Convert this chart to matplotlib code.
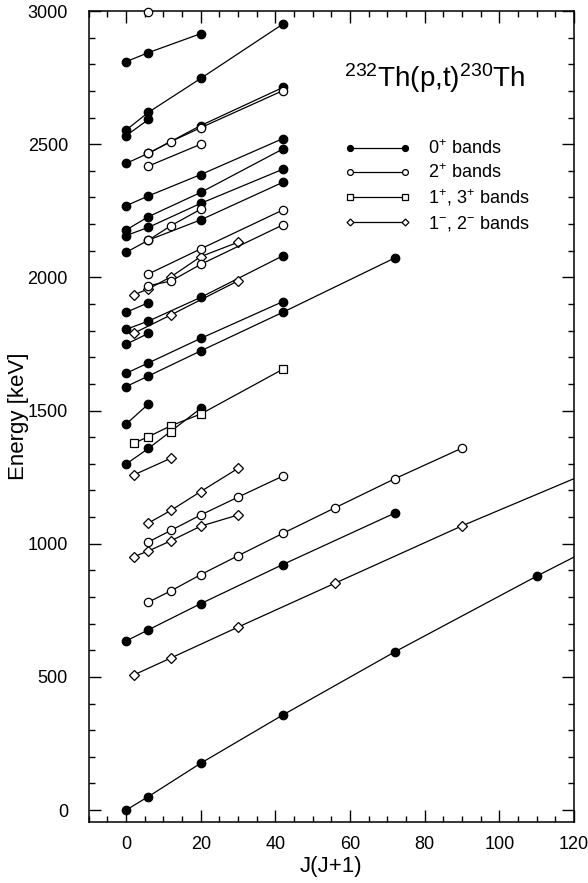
import numpy as np
import matplotlib
matplotlib.use("Agg")
import matplotlib.pyplot as plt
from matplotlib.ticker import MultipleLocator

plt.rcParams['font.family'] = ['Liberation Sans', 'DejaVu Sans']
plt.rcParams['mathtext.fontset'] = 'custom'
plt.rcParams['mathtext.rm'] = 'Liberation Sans'
plt.rcParams['mathtext.default'] = 'regular'

## 230Th levels from (p,t), grouped into bands.  x = J(J+1), y = energy in keV

# 0+ bands (filled circles)
zero_x = [
    [0, 6, 20, 42, 72, 110, 156],
    [0, 6, 20, 42, 72],
    [0, 6, 20],
    [0, 6],
    [0, 6, 20, 42, 72],
    [0, 6, 20, 42],
    [0, 6],
    [0, 6, 20, 42],
    [0, 6],
    [0, 6, 20, 42],
    [0, 6, 20, 42],
    [0, 6, 20, 42],
    [0, 6, 20, 42],
    [0, 6, 20, 42],
    [0, 6],
    [0, 6, 20, 42],
    [0, 6, 20],
]
zero_e = [
    [0, 51, 176, 357, 594, 878, 1208],
    [635, 677, 775, 922, 1115],
    [1299, 1358, 1508],
    [1449, 1525],
    [1590, 1630, 1724, 1869, 2073],
    [1640, 1679, 1771, 1909],
    [1749, 1790],
    [1805, 1836, 1925, 2081],
    [1869, 1905],
    [2094, 2140, 2216, 2357],
    [2157, 2188, 2278, 2406],
    [2178, 2228, 2319, 2482],
    [2269, 2306, 2386, 2521],
    [2428, 2466, 2570, 2713],
    [2532, 2593],
    [2553, 2620, 2747, 2951],
    [2810, 2844, 2915],
]

# 2+ bands (open circles)
two_x = [
    [6, 12, 20, 30, 42, 56, 72, 90],
    [6, 12, 20, 30, 42],
    [6, 12, 20, 42],
    [6, 20, 42],
    [6, 12, 20],
    [6, 20],
    [6, 12, 20, 42],
    [6],
]
two_e = [
    [781, 823, 884, 955, 1039, 1135, 1244, 1359],
    [1007, 1050, 1108, 1175, 1254],
    [1969, 1986, 2049, 2197],
    [2013, 2107, 2253],
    [2140, 2194, 2256],
    [2418, 2500],
    [2466, 2510, 2562, 2701],
    [2998],
]

# 1+, 3+ bands (open squares)
one_x = [
    [2, 6, 12, 20, 42],
    [12],
]
one_e = [
    [1377, 1402, 1443, 1487, 1655],
    [1421],
]

# 1-, 2- bands (open diamonds)
neg_x = [
    [2, 12, 30, 56, 90, 132],
    [2, 6, 12, 20, 30],
    [6, 12, 20, 30],
    [2, 12],
    [2, 12, 30],
    [2, 6, 12, 20, 30],
]
neg_e = [
    [507, 571, 687, 852, 1067, 1315],
    [951, 973, 1011, 1066, 1108],
    [1078, 1125, 1196, 1283],
    [1258, 1321],
    [1790, 1859, 1987],
    [1934, 1957, 2002, 2078, 2132],
]

fig = plt.figure(figsize=(5.88, 8.83), dpi=100)
ax = fig.add_axes([0.151, 0.069, 0.825, 0.9185])

lw = 0.9
handles = []

for xs, es in zip(zero_x, zero_e):
    h, = ax.plot(xs, es, '-o', color='k', lw=lw, ms=6, mfc='k', mec='k')
handles.append(h)
# 2+ points all sit inside the frame, the top one sits right on it -> no clipping
for xs, es in zip(two_x, two_e):
    h, = ax.plot(xs, es, '-o', color='k', lw=lw, ms=6, mfc='white', mec='k', mew=0.9,
                 clip_on=False, zorder=3)
handles.append(h)
for xs, es in zip(one_x, one_e):
    h, = ax.plot(xs, es, '-s', color='k', lw=lw, ms=5.5, mfc='white', mec='k', mew=0.9)
handles.append(h)
for xs, es in zip(neg_x, neg_e):
    h, = ax.plot(xs, es, '-D', color='k', lw=lw, ms=5, mfc='white', mec='k', mew=0.9)
handles.append(h)

ax.set_xlim(-10, 120)
ax.set_ylim(-45, 3000)

ax.xaxis.set_major_locator(MultipleLocator(20))
ax.xaxis.set_minor_locator(MultipleLocator(5))
ax.yaxis.set_major_locator(MultipleLocator(500))
ax.yaxis.set_minor_locator(MultipleLocator(100))
ax.tick_params(which='both', direction='in', top=True, right=True, labelsize=13, width=1.0)
ax.tick_params(which='major', length=8.5)
ax.tick_params(which='minor', length=4)
ax.tick_params(axis='x', which='major', pad=10)
ax.tick_params(axis='y', which='major', pad=15)
for sp in ax.spines.values():
    sp.set_linewidth(1.1)

ax.set_xlabel('J(J+1)', fontsize=16, labelpad=2)
ax.set_ylabel('Energy [keV]', fontsize=16, labelpad=-1)

ax.text(0.713, 0.917, '$^{232}$Th(p,t)$^{230}$Th', transform=ax.transAxes,
        fontsize=20, ha='center', va='center')

labels = ['0$^{+}$ bands', '2$^{+}$ bands', '1$^{+}$, 3$^{+}$ bands', '1$^{-}$, 2$^{-}$ bands']
ax.legend(handles, labels, loc='upper left', bbox_to_anchor=(0.527, 0.842),
          frameon=False, numpoints=2, handlelength=3.65, handletextpad=1.0,
          markerscale=0.7, fontsize=13, labelspacing=0.3, borderpad=0,
          borderaxespad=0)

plt.savefig('out.png', dpi=100)
